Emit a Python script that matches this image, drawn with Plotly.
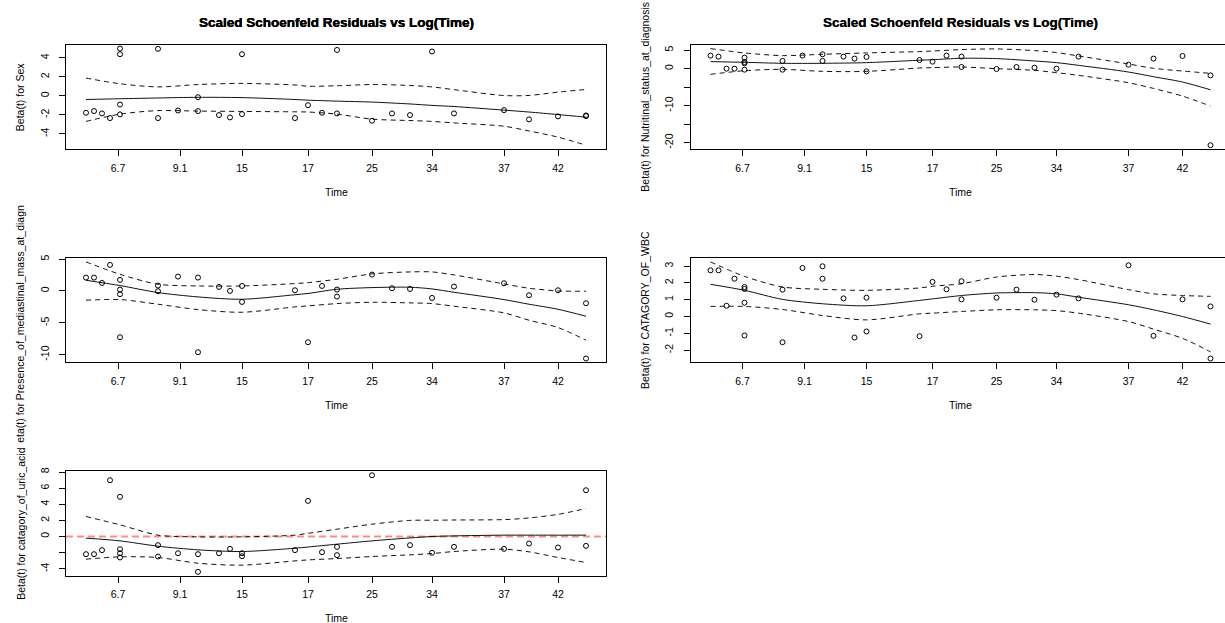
import plotly.graph_objects as go

W, H = 1225, 623
FONT = "Liberation Sans, Arial, sans-serif"

# ---- data -------------------------------------------------------------
# transformed event times (x position of each residual)
x_event = [0.000, 0.016, 0.032, 0.048, 0.068, 0.068, 0.068, 0.068, 0.144, 0.144,
           0.184, 0.224, 0.224, 0.266, 0.288, 0.312, 0.312, 0.418, 0.444, 0.472,
           0.502, 0.502, 0.572, 0.612, 0.648, 0.692, 0.736, 0.836, 0.886, 0.944,
           1.000, 1.000]
tick_pos = [0.064, 0.188, 0.312, 0.444, 0.572, 0.692, 0.836, 0.944]
tick_lab = ["6.7", "9.1", "15", "17", "25", "34", "37", "42"]
x_curve = [0.000, 0.068, 0.144, 0.224, 0.312, 0.418, 0.444, 0.502, 0.572, 0.648,
           0.692, 0.736, 0.836, 0.886, 0.944, 1.000]

sex_resid = [-1.78, -1.60, -1.85, -2.34, 4.99, 4.40, -0.91, -1.95, 4.96, -2.34,
             -1.54, -0.14, -1.60, -2.02, -2.27, 4.40, -1.92, -2.34, -0.98, -1.78,
             4.85, -1.85, -2.62, -1.85, -2.02, 4.68, -1.85, -1.50, -2.48, -2.16,
             -2.06, -2.13]
sex_fit = [-0.38, -0.30, -0.22, -0.15, -0.18, -0.38, -0.45, -0.55, -0.65, -0.85,
           -1.00, -1.12, -1.50, -1.70, -1.97, -2.24]
sex_upper = [1.88, 1.28, 0.95, 1.20, 1.32, 1.15, 1.02, 1.07, 1.20, 1.10,
             0.95, 0.66, 0.04, 0.05, 0.40, 0.68]
sex_lower = [-2.69, -1.92, -1.55, -1.60, -1.64, -1.68, -1.70, -1.92, -2.45, -2.60,
             -2.69, -2.85, -3.20, -3.70, -4.35, -5.20]

nut_resid = [3.55, 3.28, 0.02, 0.02, 3.00, 1.83, 1.47, -0.25, 2.10, -0.25,
             3.55, 3.91, 2.10, 3.28, 2.74, 3.19, -0.71, 2.36, 1.92, 3.55,
             3.28, 0.47, -0.07, 0.47, 0.29, 0.02, 3.28, 1.10, 2.74, 3.46,
             -1.79, -20.70]
nut_fit = [1.92, 1.74, 1.47, 1.47, 1.65, 2.30, 2.45, 2.83, 2.74, 2.10,
           1.65, 0.92, -0.89, -2.16, -3.60, -5.69]
nut_upper = [5.45, 4.28, 3.55, 3.91, 4.28, 4.64, 4.80, 5.18, 5.36, 4.91,
             4.37, 3.46, 1.29, 0.11, -0.62, -1.25]
nut_lower = [-1.52, -0.53, -0.16, -0.71, -0.71, 0.20, 0.30, 0.47, 0.02, -0.43,
             -1.07, -1.79, -3.79, -5.33, -7.41, -10.10]

med_resid = [2.09, 2.09, 1.25, 4.08, 1.73, 0.21, -0.52, -7.27, 0.84, -0.05,
             2.25, 2.09, -9.62, 0.63, 0.00, 0.78, -1.73, 0.10, -8.05, 0.78,
             0.21, -0.89, 2.56, 0.42, 0.31, -1.10, 0.68, 1.20, -0.68, 0.10,
             -1.93, -10.61]
med_fit = [1.67, 0.84, -0.26, -0.94, -1.31, -0.60, -0.40, 0.26, 0.52, 0.58,
           0.31, -0.21, -1.36, -2.09, -2.88, -3.97]
med_upper = [4.55, 2.61, 1.05, 0.78, 0.78, 1.15, 1.30, 1.83, 2.67, 2.98,
             2.98, 2.51, 1.10, 0.42, 0.00, -0.05]
med_lower = [-1.46, -1.36, -2.09, -2.93, -3.35, -2.51, -2.35, -1.99, -1.78, -1.88,
             -1.99, -2.40, -3.45, -4.60, -5.75, -7.74]

wbc_resid = [2.75, 2.75, 0.64, 2.25, 1.76, 1.64, 0.82, -1.13, 1.60, -1.53,
             2.89, 2.99, 2.25, 1.08, -1.25, 1.12, -0.89, -1.17, 2.06, 1.62,
             2.10, 1.02, 1.12, 1.60, 1.00, 1.30, 1.08, 3.05, -1.15, 1.02,
             0.60, -2.50]
wbc_fit = [1.92, 1.56, 1.02, 0.76, 0.64, 0.96, 1.05, 1.25, 1.40, 1.42,
           1.35, 1.15, 0.70, 0.40, 0.00, -0.45]
wbc_upper = [3.25, 2.39, 1.76, 1.62, 1.56, 1.70, 1.80, 1.95, 2.35, 2.50,
             2.40, 2.20, 1.60, 1.35, 1.25, 1.20]
wbc_lower = [0.60, 0.60, 0.42, 0.06, -0.20, 0.16, 0.20, 0.30, 0.40, 0.40,
             0.35, 0.20, -0.30, -0.75, -1.30, -2.10]

uric_resid = [-2.19, -2.19, -1.69, 6.98, 4.92, -1.57, -2.07, -2.60, -1.07, -2.48,
              -2.07, -2.19, -4.38, -2.07, -1.53, -2.07, -2.44, -1.69, 4.42, -1.94,
              -1.28, -2.31, 7.60, -1.28, -1.07, -2.02, -1.28, -1.53, -0.87, -1.36,
              5.74, -1.16]
uric_fit = [-0.20, -0.54, -1.20, -1.65, -1.86, -1.45, -1.30, -0.95, -0.54, -0.17,
            0.00, 0.08, 0.17, 0.17, 0.17, 0.17]
uric_upper = [2.48, 1.45, 0.17, -0.04, -0.04, 0.17, 0.40, 0.91, 1.53, 2.00,
              2.02, 2.05, 2.10, 2.30, 2.75, 3.47]
uric_lower = [-2.81, -2.52, -2.60, -3.31, -3.55, -3.02, -2.90, -2.73, -2.48, -2.27,
              -2.11, -1.86, -1.57, -1.90, -2.60, -3.22]

title_text = "Scaled Schoenfeld Residuals vs Log(Time)"
ylabels = ["Beta(t) for Sex",
           "Beta(t) for Nutritinal_status_at_diagnosis",
           "eta(t) for Presence_of_mediastinal_mass_at_diagn",
           "Beta(t) for CATAGORY_OF_WBC",
           "Beta(t) for catagory_of_uric_acid"]
ytick_vals = [[4, 2, 0, -2, -4],
              [5, 0, -5, -10, -15, -20],
              [5, 0, -5, -10],
              [3, 2, 1, 0, -1, -2],
              [8, 6, 4, 2, 0, -2, -4]]
ytick_text = [["4", "2", "0", "-2", "-4"],
              ["5", "0", "", "-10", "", "-20"],
              ["5", "0", "-5", "-10"],
              ["3", "2", "1", "0", "-1", "-2"],
              ["8", "6", "4", "2", "0", "", "-4"]]

series = [(sex_resid, sex_fit, sex_upper, sex_lower),
          (nut_resid, nut_fit, nut_upper, nut_lower),
          (med_resid, med_fit, med_upper, med_lower),
          (wbc_resid, wbc_fit, wbc_upper, wbc_lower),
          (uric_resid, uric_fit, uric_upper, uric_lower)]

# ---- layout geometry (pixels) -----------------------------------------
PX_PER_UNIT = 500.0
XMIN = -0.04
col_left = [66.0, 690.5]
row_top = [41.0, 255.7, 470.4]
box_h = 105.0
panel_pos = [(0, 0), (1, 0), (0, 1), (1, 1), (0, 2)]  # (col,row)


def py(p):
    return 1 - p / H


def pxp(p):
    return p / W


fig = go.Figure()
layout = dict(width=W, height=H, margin=dict(l=0, r=0, t=0, b=0),
              paper_bgcolor="white", plot_bgcolor="white", showlegend=False,
              font=dict(family=FONT, size=10.5, color="black"))
annotations = []

for i, ((resid, fit, up, lo), (c, r)) in enumerate(zip(series, panel_pos)):
    k = "" if i == 0 else str(i + 1)
    xa, ya = "x" + k, "y" + k
    left = col_left[c]
    right = min(left + 540.0, W)
    top = row_top[r]
    bottom = top + box_h
    xmax = XMIN + (right - left) / PX_PER_UNIT

    allv = list(resid) + list(up) + list(lo) + list(fit)
    vmin, vmax = min(allv), max(allv)
    pad = 0.04 * (vmax - vmin)

    if i == 4:
        fig.add_trace(go.Scatter(x=[XMIN, xmax], y=[0, 0], mode="lines",
                                 line=dict(color="rgba(255,40,40,0.55)", width=2,
                                           dash="7px,4px"),
                                 xaxis=xa, yaxis=ya, hoverinfo="skip"))
    for curve, dash in ((up, "5px,4px"), (lo, "5px,4px"), (fit, "solid")):
        fig.add_trace(go.Scatter(x=x_curve, y=curve, mode="lines",
                                 line=dict(color="#111111", width=1, dash=dash,
                                           shape="spline", smoothing=0.8),
                                 xaxis=xa, yaxis=ya))
    fig.add_trace(go.Scatter(x=x_event, y=resid, mode="markers",
                             marker=dict(symbol="circle-open", size=5,
                                         color="black", line=dict(width=1)),
                             xaxis=xa, yaxis=ya))

    xaxis = dict(domain=[pxp(left), pxp(right)], range=[XMIN, xmax],
                 anchor=ya, tickvals=tick_pos, ticktext=tick_lab,
                 ticks="outside", ticklen=6, tickwidth=1, tickcolor="black",
                 showline=True, mirror=True, linecolor="black", linewidth=1,
                 showgrid=False, zeroline=False, ticklabelstandoff=3,
                 tickfont=dict(size=10.5, family=FONT, color="black"))
    yaxis = dict(domain=[py(bottom), py(top)], range=[vmin - pad, vmax + pad],
                 anchor=xa, tickvals=ytick_vals[i], ticktext=ytick_text[i],
                 ticks="outside", ticklen=6, tickwidth=1, tickcolor="black",
                 showline=True, mirror=(c == 0), linecolor="black", linewidth=1,
                 showgrid=False, zeroline=False, tickangle=-90,
                 ticklabelstandoff=6,
                 tickfont=dict(size=10.5, family=FONT, color="black"))
    layout["xaxis" + k] = xaxis
    layout["yaxis" + k] = yaxis

    cx = left + 270.0
    annotations.append(dict(text="<b>" + title_text + "</b>", x=pxp(cx), y=py(18.3),
                            xref="paper", yref="paper", showarrow=False,
                            xanchor="center", yanchor="middle",
                            font=dict(size=13.5, family=FONT, color="black")))
    annotations.append(dict(text="Time", x=pxp(cx), y=py(bottom + 43),
                            xref="paper", yref="paper", showarrow=False,
                            xanchor="center", yanchor="middle",
                            font=dict(size=10.5, family=FONT, color="black")))
    ycenter = (top + bottom) / 2 if i != 2 else 321.5
    annotations.append(dict(text=ylabels[i], x=pxp(left - 45.7), y=py(ycenter),
                            xref="paper", yref="paper", showarrow=False,
                            textangle=-90, xanchor="center", yanchor="middle",
                            font=dict(size=10.5, family=FONT, color="black")))

layout["annotations"] = annotations
fig.update_layout(**layout)
fig.write_html("out.html")
